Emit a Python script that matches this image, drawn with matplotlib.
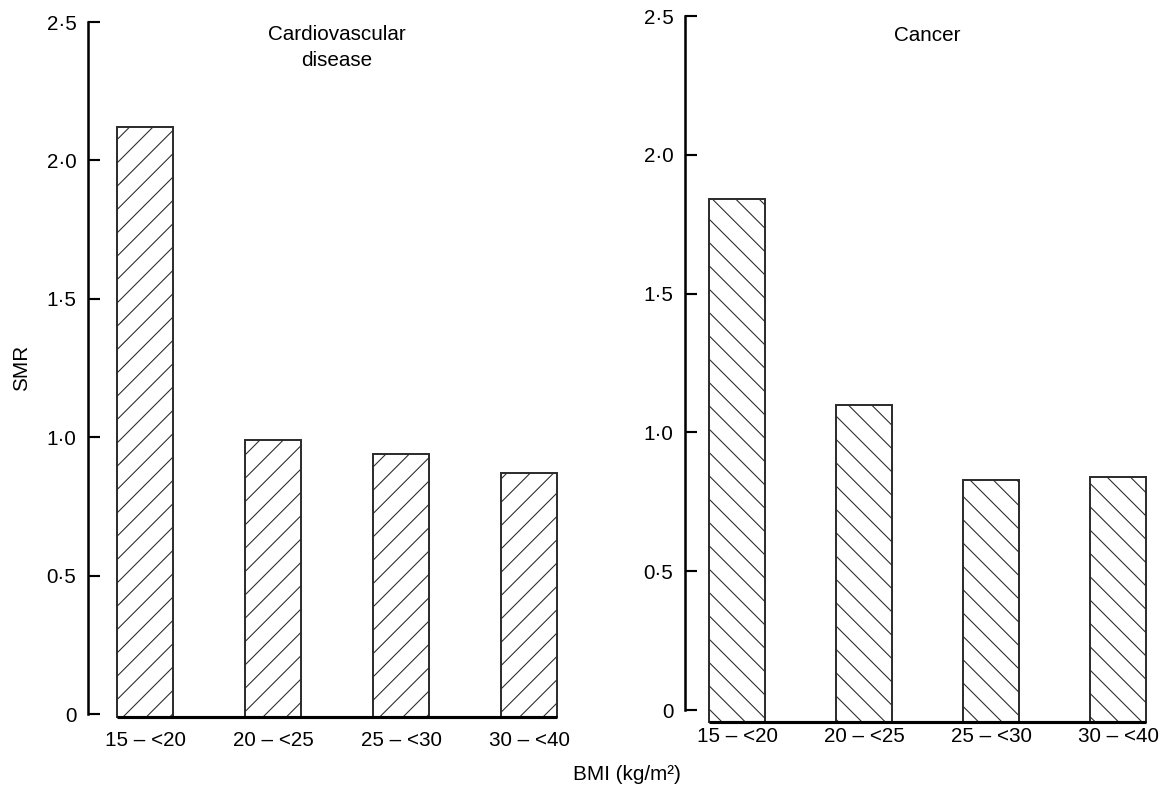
import numpy as np
import matplotlib
matplotlib.use("Agg")
import matplotlib.pyplot as plt

# data
bmi_groups = ["15 – <20", "20 – <25", "25 – <30", "30 – <40"]
smr_cvd = [2.12, 0.99, 0.94, 0.87]
smr_cancer = [1.84, 1.10, 0.83, 0.84]
y_ticks = [0, 0.5, 1.0, 1.5, 2.0, 2.5]
y_tick_labels = ["0", "0·5", "1·0", "1·5", "2·0", "2·5"]

DPI = 140  # 140 dpi gives the wide hatch spacing of the print
plt.rcParams["font.family"] = ["Liberation Sans", "DejaVu Sans"]
plt.rcParams["hatch.linewidth"] = 0.55
plt.rcParams["hatch.color"] = "#222222"

fig = plt.figure(figsize=(1165 / DPI, 794 / DPI), dpi=DPI)
W, H = 1165, 794
FS = 10.6


#axes placed in pixel coords of the reference
def panel(left_px, top_px, zero_px, x_first_px, spacing_px, right_px, ymin):
    per_unit = (zero_px - top_px) / 2.5
    bottom_px = zero_px - ymin * per_unit
    ax = fig.add_axes([left_px / W, 1 - bottom_px / H, (right_px - left_px) / W, (bottom_px - top_px) / H])
    x0 = -(x_first_px - left_px) / spacing_px
    ax.set_xlim(x0, x0 + (right_px - left_px) / spacing_px)
    ax.set_ylim(ymin, 2.5)
    return ax, 56 / spacing_px


def draw(ax, values, bar_w, hatch, base, title, title_y, va):
    x = np.arange(len(bmi_groups))
    vals = np.array(values)
    ax.bar(x, vals - base, bottom=base, width=bar_w, facecolor="white", edgecolor="#2a2a2a",
           linewidth=1.0, hatch=hatch, zorder=2)
    ax.plot([x[0] - bar_w / 2, x[-1] + bar_w / 2], [base, base], color="black", lw=1.6, zorder=3,
            solid_capstyle="butt")
    for s in ["top", "right", "bottom"]:
        ax.spines[s].set_visible(False)
    ax.spines["left"].set_linewidth(1.3)
    ax.spines["left"].set_bounds(0, 2.5)
    ax.set_yticks(y_ticks)
    ax.set_yticklabels(y_tick_labels, fontsize=FS)
    ax.tick_params(axis="y", direction="in", length=6.2, width=1.1, pad=6)
    ax.set_xticks(x)
    ax.set_xticklabels(bmi_groups, fontsize=FS)
    ax.tick_params(axis="x", length=0, pad=0)
    ax.text(1.5, title_y, title, ha="center", va=va, fontsize=FS, linespacing=1.5)


ax1, bw1 = panel(88, 22, 714, 145, 128, 560, -0.06)
draw(ax1, smr_cvd, bw1, "//", -0.012, "Cardiovascular\ndisease", 2.49, "top")

ax2, bw2 = panel(685, 16, 710, 737, 127, 1160, -0.06)
draw(ax2, smr_cancer, bw2, "\\\\", -0.045, "Cancer", 2.43, "center")

fig.text(22 / W, 1 - 368 / H, "SMR", rotation=90, ha="center", va="center", fontsize=FS)
fig.text(627 / W, 1 - 775 / H, "BMI (kg/m²)", ha="center", va="center", fontsize=FS)

fig.savefig("out.png", dpi=DPI)
